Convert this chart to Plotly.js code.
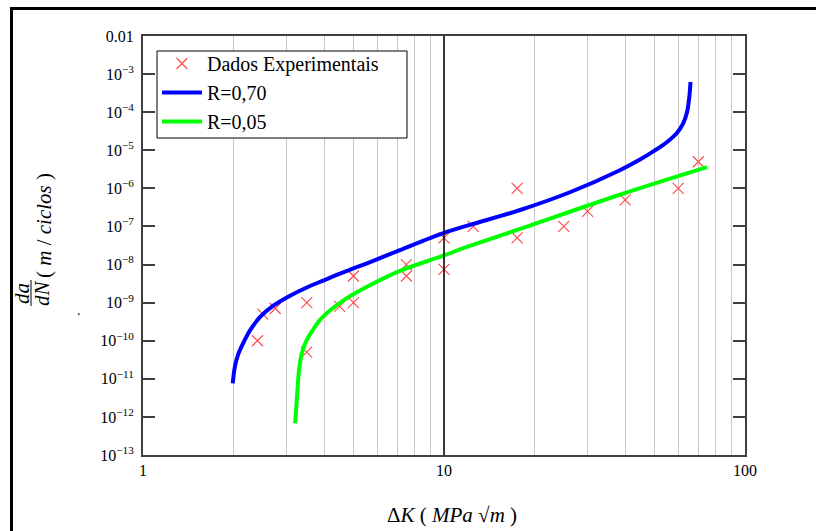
<!DOCTYPE html>
<html>
<head>
<meta charset="utf-8">
<script src="https://cdn.plot.ly/plotly-3.0.1.min.js"></script>
<style>html,body{margin:0;padding:0;background:#fff;}#chart{width:816px;height:531px;}</style>
</head>
<body>
<div id="chart"></div>
<script>
// ---- data ----
var expK   = [2.4, 2.5, 2.75, 3.5, 3.5, 4.5, 5, 5, 7.5, 7.5, 10, 10, 12.5, 17.5, 17.5, 25, 30, 40, 60, 70];
var expDadN = [1e-10, 5e-10, 7e-10, 1e-9, 5e-11, 8e-10, 1e-9, 5e-9, 1e-8, 5e-9, 5e-8, 7.5e-9, 1e-7, 1e-6, 5e-8, 1e-7, 2.5e-7, 5e-7, 1e-6, 5e-6];

var r70K    = [1.987, 2.02, 2.07, 2.15, 2.27, 2.45, 2.71, 3.08, 3.50, 3.97, 4.69, 5.55, 7.14, 10.0, 12.2, 17.9, 26.2, 38.4, 44.8, 50.2, 55.1, 59.4, 62.2, 64.2, 65.4, 65.9];
var r70DadN = [7.6e-12, 2.1e-11, 4.3e-11, 8.5e-11, 1.9e-10, 4.2e-10, 8.3e-10, 1.52e-9, 2.5e-9, 3.8e-9, 6.5e-9, 1.08e-8, 2.4e-8, 6.8e-8, 1.1e-7, 2.7e-7, 7.9e-7, 3.0e-6, 5.7e-6, 9.9e-6, 1.65e-5, 2.84e-5, 4.9e-5, 1.01e-4, 2.8e-4, 6.2e-4];

var r05K    = [3.20, 3.22, 3.26, 3.30, 3.37, 3.50, 3.68, 3.87, 4.18, 4.69, 5.55, 7.14, 10.0, 11.9, 17.5, 38.4, 74.8];
var r05DadN = [6.8e-13, 1.2e-12, 5.1e-12, 1.7e-11, 4.7e-11, 1.05e-10, 2.0e-10, 3.5e-10, 6.2e-10, 1.22e-9, 2.6e-9, 6.8e-9, 1.73e-8, 2.9e-8, 8.1e-8, 6.8e-7, 3.6e-6];

var seriesNames = ['Dados Experimentais', 'R=0,70', 'R=0,05'];

var xTickVals = [1,2,3,4,5,6,7,8,9,10,20,30,40,50,60,70,80,90,100];
var xTickText = ['1','','','','','','','','','10','','','','','','','','','100'];
var yTickVals = [1e-13,1e-12,1e-11,1e-10,1e-9,1e-8,1e-7,1e-6,1e-5,1e-4,1e-3,1e-2];
var yTickText = ['10<sup>−13</sup>','10<sup>−12</sup>','10<sup>−11</sup>','10<sup>−10</sup>','10<sup>−9</sup>','10<sup>−8</sup>','10<sup>−7</sup>','10<sup>−6</sup>','10<sup>−5</sup>','10<sup>−4</sup>','10<sup>−3</sup>','0.01'];

// ---- layout helpers (pixel -> paper) ----
var W = 816, H = 531, ML = 143, MR = 71, MT = 36, MB = 76;
var PW = W - ML - MR, PH = H - MT - MB;
function px(x){ return (x - ML) / PW; }
function py(y){ return (H - MB - y) / PH; }

var serif = 'Liberation Serif, Times New Roman, serif';

var traces = [
  {x: expK, y: expDadN, name: seriesNames[0], type: 'scatter', mode: 'markers',
   marker: {symbol: 'x-thin-open', size: 11, color: '#ff4d4d', line: {width: 1.2, color: '#ff4d4d'}}},
  {x: r70K, y: r70DadN, name: seriesNames[1], type: 'scatter', mode: 'lines',
   line: {color: '#0000ff', width: 4, shape: 'spline', smoothing: 1}},
  {x: r05K, y: r05DadN, name: seriesNames[2], type: 'scatter', mode: 'lines',
   line: {color: '#00ff00', width: 4, shape: 'spline', smoothing: 1}}
];

function ann(x, y, text, size, angle){
  return {xref: 'paper', yref: 'paper', x: px(x), y: py(y), text: text, showarrow: false,
          xanchor: 'center', yanchor: 'middle', textangle: angle || 0,
          font: {family: serif, size: size, color: '#000'}};
}

var layout = {
  width: W, height: H,
  margin: {l: ML, r: MR, t: MT, b: MB},
  paper_bgcolor: '#fff', plot_bgcolor: '#fff',
  font: {family: serif, size: 15, color: '#000'},
  showlegend: true,
  legend: {x: px(157), y: py(44), xanchor: 'left', yanchor: 'top',
           bgcolor: 'rgba(0,0,0,0)', borderwidth: 0,
           font: {family: serif, size: 20, color: '#000'}, itemwidth: 40},
  xaxis: {type: 'log', range: [0, 2], tickvals: xTickVals, ticktext: xTickText,
          showgrid: true, gridcolor: '#c8c8c8', gridwidth: 1,
          showline: true, linecolor: '#404040', linewidth: 2, mirror: true,
          ticks: '', tickfont: {family: serif, size: 16}, zeroline: false},
  yaxis: {type: 'log', range: [-13, -2], tickvals: yTickVals, ticktext: yTickText,
          showgrid: false, showline: true, linecolor: '#404040', linewidth: 2, mirror: 'ticks',
          ticks: 'inside', ticklen: 12, tickwidth: 2, tickcolor: '#404040',
          ticklabelstandoff: 4, tickfont: {family: serif, size: 16}, zeroline: false},
  shapes: [
    {type: 'line', xref: 'x', yref: 'paper', x0: 10, x1: 10, y0: 0, y1: 1, line: {color: '#000', width: 1.5}},
    {type: 'rect', xref: 'paper', yref: 'paper', x0: px(157), x1: px(407), y0: py(51), y1: py(138),
     fillcolor: '#fff', line: {color: '#000', width: 1}, layer: 'above'},
    {type: 'line', xref: 'paper', yref: 'paper', x0: px(11), x1: px(820), y0: py(8.5), y1: py(8.5), line: {color: '#000', width: 3}},
    {type: 'line', xref: 'paper', yref: 'paper', x0: px(11.5), x1: px(11.5), y0: py(7), y1: py(540), line: {color: '#000', width: 3}},
    {type: 'line', xref: 'paper', yref: 'paper', x0: px(31), x1: px(31), y0: py(280), y1: py(306), line: {color: '#000', width: 1}}
  ],
  annotations: [
    ann(22, 293, '<i>da</i>', 21, -90),
    ann(42, 293, '<i>dN</i>', 21, -90),
    ann(44, 226, '( <i>m</i> / <i>ciclos</i> )', 21, -90),
    ann(79, 310, '.', 14),
    ann(452, 515, 'Δ<i>K</i> ( <i>MPa</i> √<i>m</i> )', 21)
  ]
};

Plotly.newPlot('chart', traces, layout, {displayModeBar: false, staticPlot: true});
</script>
</body>
</html>
